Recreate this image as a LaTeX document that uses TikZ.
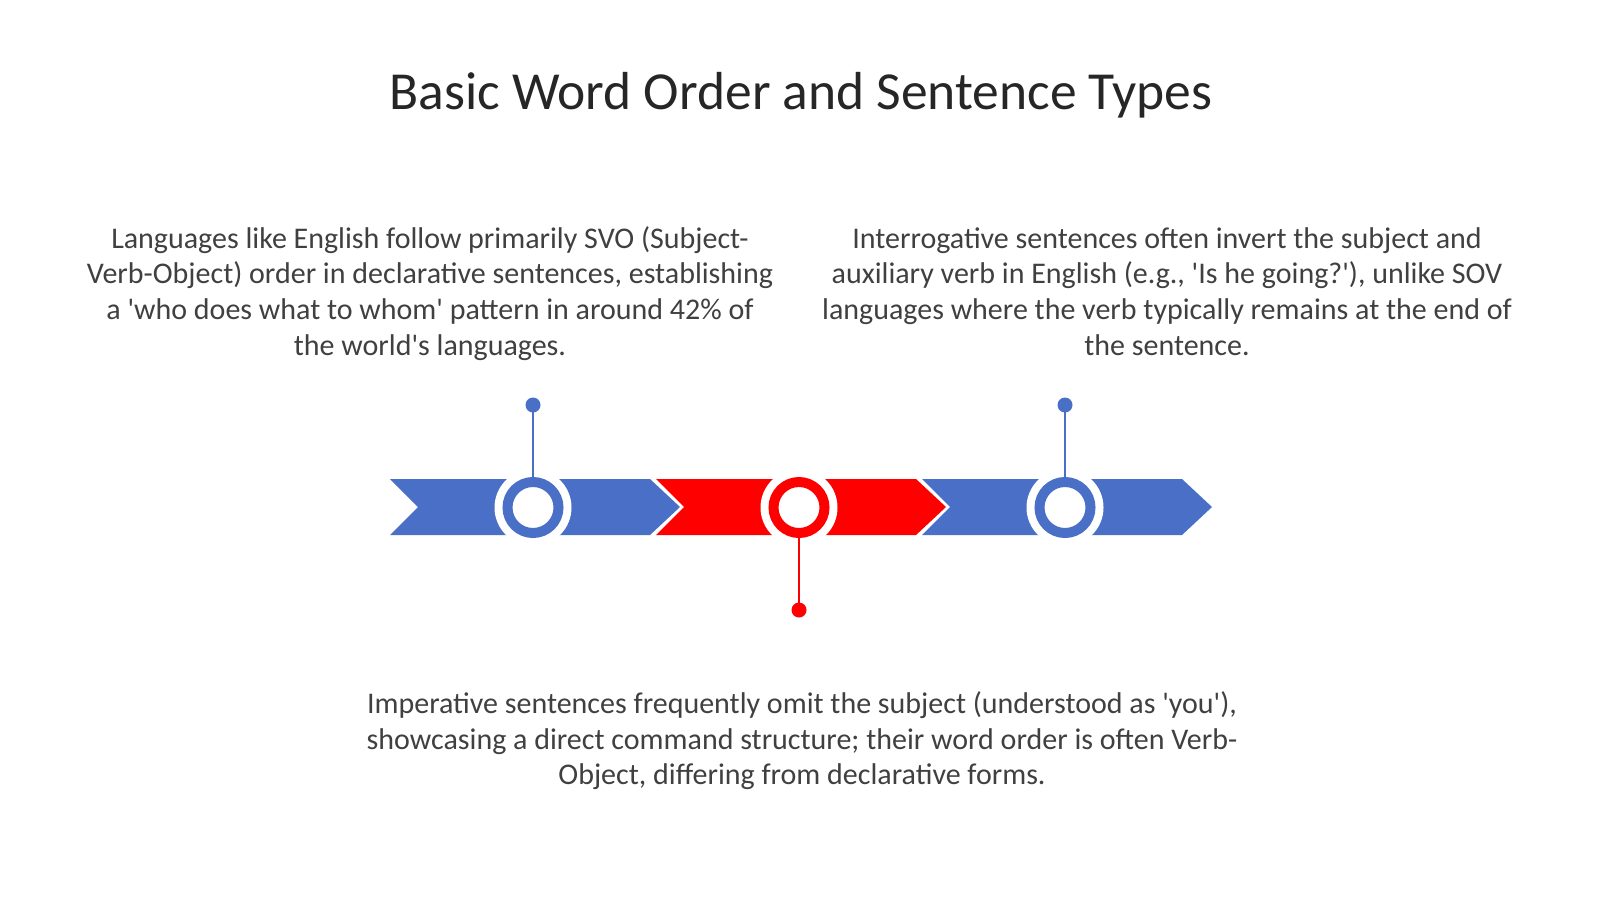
\documentclass[tikz,border=0pt]{standalone}
\usepackage{fontspec}
\setmainfont{Carlito}[Ligatures=TeXOff]
\definecolor{cblue}{HTML}{4A6FC6}
\definecolor{cred}{HTML}{FF0000}
\definecolor{ctext}{HTML}{404040}
\definecolor{ctitle}{HTML}{262626}
\begin{document}
\begin{tikzpicture}[x=1pt,y=-1pt,
  para/.style={anchor=north, align=center, inner sep=0pt, text=ctext,
    font=\fontsize{30}{35.6}\selectfont},
  halo/.style={circle, fill=white, minimum size=77pt, inner sep=0pt},
  ringb/.style={circle, draw=#1, line width=10pt, fill=white, minimum size=51pt, inner sep=0pt},
  dotb/.style={circle, fill=#1, minimum size=15pt, inner sep=0pt},
  stem/.style={draw=#1, line width=2.2pt}]
\useasboundingbox (0,0) rectangle (1600,899);
\fill[white] (0,0) rectangle (1600,899);

% title
\node[anchor=base, inner sep=0pt, text=ctitle, font=\fontsize{53.5}{60}\selectfont]
  (title) at (801,109) {Basic Word Order and Sentence Types};

% paragraphs
\node[para] (left) at (430,224) {\rule{0pt}{24pt}Languages like English follow primarily SVO (Subject-\\
Verb-Object) order in declarative sentences, establishing\\
a 'who does what to whom' pattern in around 42\% of\\
the world's languages.};
\node[para] (right) at (1167,224) {\rule{0pt}{24pt}Interrogative sentences often invert the subject and\\
auxiliary verb in English (e.g., 'Is he going?'), unlike SOV\\
languages where the verb typically remains at the end of\\
the sentence.};
\node[para] (bottom) at (802,689.5) {\rule{0pt}{24pt}Imperative sentences frequently omit the subject (understood as 'you'),\\
showcasing a direct command structure; their word order is often Verb-\\
Object, differing from declarative forms.};

% chevrons
\foreach \L/\c in {390/cblue, 656/cred, 922/cblue}{
  \fill[\c] (\L,479) -- (\L+260,479) -- (\L+290,507) -- (\L+260,535) -- (\L,535) -- (\L+28,507) -- cycle;
}

% circles
\node[halo] (h1) at (533,507.5) {};
\node[halo] (h2) at (799,507.5) {};
\node[halo] (h3) at (1065,507.5) {};
\node[ringb=cblue] (c1) at (533,507.5) {};
\node[ringb=cred] (c2) at (799,507.5) {};
\node[ringb=cblue] (c3) at (1065,507.5) {};

% stems
\node[dotb=cblue] (d1) at (533,405) {};
\node[dotb=cred] (d2) at (799,610) {};
\node[dotb=cblue] (d3) at (1065,405) {};
\draw[stem=cblue] (d1.center) -- (c1.north);
\draw[stem=cred] (d2.center) -- (c2.south);
\draw[stem=cblue] (d3.center) -- (c3.north);
\end{tikzpicture}
\end{document}
